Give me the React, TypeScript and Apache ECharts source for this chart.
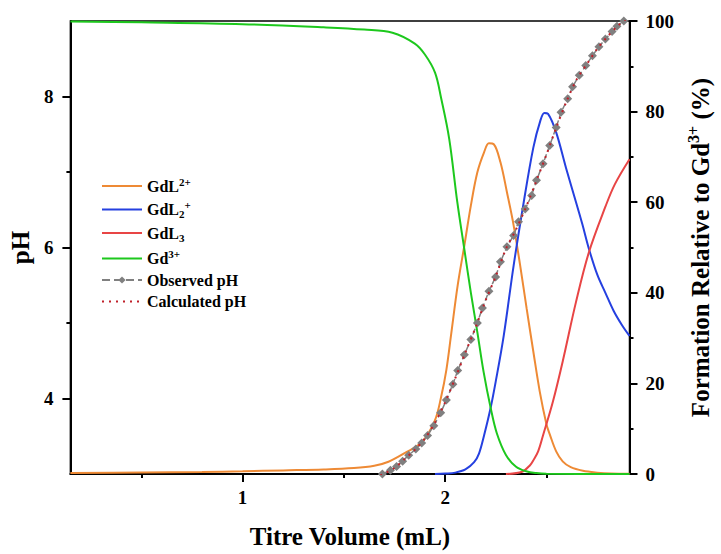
import React, { useEffect, useRef } from "react";
import * as echarts from "echarts";

const FONT = "'Liberation Serif', 'Times New Roman', serif";

// Gd3+ (% formation)
const gd3X = [0.15, 0.5, 1.0, 1.4, 1.6, 1.74, 1.85, 1.9, 1.95, 1.98, 2.02, 2.06, 2.095, 2.127, 2.16, 2.19, 2.225, 2.255, 2.3, 2.35, 2.4, 2.45, 2.5, 2.91];
const gd3Y = [99.9, 99.7, 99.3, 98.6, 98.1, 97.4, 95.0, 92.6, 88.6, 83, 74, 60, 49.5, 40, 31, 22.5, 14.5, 9, 4.2, 1.6, 0.6, 0.2, 0.05, 0];

// GdL2+
const gdlX = [0.15, 0.5, 0.8, 1.0, 1.2, 1.4, 1.55, 1.65, 1.72, 1.8, 1.884, 1.949, 1.98, 2.006, 2.03, 2.062, 2.095, 2.127, 2.159, 2.192, 2.216, 2.24, 2.273, 2.305, 2.338, 2.37, 2.402, 2.435, 2.467, 2.5, 2.516, 2.548, 2.58, 2.62, 2.68, 2.75, 2.82, 2.91];
const gdlY = [0.2, 0.35, 0.45, 0.6, 0.8, 1.0, 1.3, 1.8, 2.7, 4.6, 7.0, 11.8, 17, 23, 31, 41.7, 50.5, 59.3, 66.6, 71.0, 73.0, 72.8, 68.8, 62.2, 54.9, 46.1, 36.6, 27.1, 18.2, 11, 8.8, 5.0, 2.8, 1.5, 0.7, 0.3, 0.1, 0.05];

// GdL2+ (bis)
const gdl2X = [1.95, 2.0, 2.05, 2.1, 2.143, 2.167, 2.192, 2.224, 2.25, 2.289, 2.338, 2.386, 2.435, 2.47, 2.49, 2.508, 2.548, 2.597, 2.646, 2.678, 2.711, 2.751, 2.791, 2.832, 2.874, 2.91];
const gdl2Y = [0, 0.1, 0.3, 1.0, 2.6, 4.5, 8.5, 14.5, 20.5, 30.5, 46, 59.5, 72, 78, 79.7, 79.5, 75.4, 67.5, 60, 55, 49.5, 44, 40, 36, 32.8, 30.5];

// GdL3
const gdl3X = [2.3, 2.38, 2.42, 2.435, 2.459, 2.483, 2.532, 2.581, 2.646, 2.71, 2.791, 2.838, 2.91];
const gdl3Y = [0, 0.5, 2, 3, 5, 8.5, 16, 25, 38, 49, 59, 64, 69.5];

// Observed pH
const obsX = [1.69, 1.73, 1.76, 1.79, 1.82, 1.855, 1.884, 1.913, 1.944, 1.978, 2.006, 2.038, 2.062, 2.095, 2.127, 2.159, 2.184, 2.216, 2.249, 2.273, 2.305, 2.338, 2.362, 2.395, 2.427, 2.451, 2.483, 2.516, 2.548, 2.572, 2.605, 2.629, 2.662, 2.694, 2.727, 2.759, 2.791, 2.824, 2.848, 2.882];
const obsY = [3.0, 3.05, 3.1, 3.17, 3.25, 3.33, 3.41, 3.51, 3.64, 3.81, 3.98, 4.19, 4.37, 4.58, 4.78, 5.0, 5.2, 5.42, 5.61, 5.81, 6.01, 6.16, 6.34, 6.51, 6.69, 6.89, 7.11, 7.35, 7.59, 7.79, 7.97, 8.13, 8.28, 8.41, 8.54, 8.66, 8.76, 8.86, 8.93, 9.0];

// Calculated pH
const calcX = [1.68, 1.75, 1.8, 1.85, 1.9, 1.95, 2.0, 2.05, 2.1, 2.15, 2.2, 2.25, 2.3, 2.35, 2.4, 2.45, 2.5, 2.55, 2.6, 2.65, 2.7, 2.75, 2.8, 2.85, 2.89];
const calcY = [2.98, 3.08, 3.2, 3.32, 3.47, 3.68, 3.95, 4.27, 4.61, 4.94, 5.3, 5.62, 5.98, 6.24, 6.54, 6.88, 7.23, 7.6, 7.94, 8.23, 8.43, 8.63, 8.79, 8.93, 9.02];

const xMajor = [1, 2];
const xMinor = [0.5, 1.5, 2.5];
const phMajor = [4, 6, 8];
const phMinor = [5, 7];

const zip = (xs: number[], ys: number[]) => xs.map((x, i) => [x, ys[i]]);

const legendLabels: Record<string, string> = {
  "GdL2+": "{b|GdL}{sup|2+}",
  "GdL2_+": "{b|GdL}{sub|2}{sup|+}",
  GdL3: "{b|GdL}{sub|3}",
  "Gd3+": "{b|Gd}{sup|3+}",
  "Observed pH": "{b|Observed pH}",
  "Calculated pH": "{b|Calculated pH}",
};

const tickStyle = { color: "#000", width: 2 };
const labelStyle = { fontSize: 19, fontWeight: "bold" as const, fontFamily: FONT, color: "#000" };
const nameStyle = { fontSize: 25, fontWeight: "bold" as const, fontFamily: FONT, color: "#000" };
const hidden = { opacity: 0 };

export default function App() {
  const ref = useRef<HTMLDivElement>(null);
  useEffect(() => {
    const chart = echarts.init(ref.current!, null, { renderer: "svg" });
    const speciesLine = (name: string, color: string, xs: number[], ys: number[]) => ({
      name,
      type: "line",
      xAxisIndex: 0,
      yAxisIndex: 2,
      data: zip(xs, ys),
      symbol: "none",
      smooth: 0.35,
      lineStyle: { color, width: 2 },
      itemStyle: { color },
      z: 3,
    });
    chart.setOption({
      animation: false,
      backgroundColor: "#fff",
      grid: { left: 70, right: 85, top: 21, bottom: 77, show: true, borderColor: "#000", borderWidth: 1.5 },
      legend: {
        orient: "vertical",
        left: 101,
        top: 176,
        padding: 0,
        itemWidth: 40,
        itemHeight: 9,
        itemGap: 5.5,
        data: [
          { name: "GdL2+", itemStyle: hidden },
          { name: "GdL2_+", itemStyle: hidden },
          { name: "GdL3", itemStyle: hidden },
          { name: "Gd3+", itemStyle: hidden },
          { name: "Observed pH" },
          { name: "Calculated pH", itemStyle: hidden },
        ],
        formatter: (n: string) => legendLabels[n] || n,
        textStyle: {
          rich: {
            b: { fontSize: 16, fontWeight: "bold", fontFamily: FONT, color: "#000", lineHeight: 20 },
            sup: { fontSize: 11, fontWeight: "bold", fontFamily: FONT, color: "#000", lineHeight: 11, verticalAlign: "top" },
            sub: { fontSize: 11, fontWeight: "bold", fontFamily: FONT, color: "#000", lineHeight: 11, verticalAlign: "bottom" },
          },
        },
      },
      xAxis: [
        {
          type: "value",
          min: 0.15,
          max: 2.91,
          position: "bottom",
          axisLine: { show: true, onZero: false, lineStyle: tickStyle },
          axisTick: { show: true, customValues: xMajor, length: 8, lineStyle: tickStyle },
          axisLabel: { customValues: xMajor, margin: 14, ...labelStyle },
          splitLine: { show: false },
          name: "Titre Volume (mL)",
          nameLocation: "middle",
          nameGap: 50,
          nameTextStyle: nameStyle,
        },
        {
          type: "value",
          min: 0.15,
          max: 2.91,
          position: "bottom",
          axisLine: { show: false },
          axisTick: { show: true, customValues: xMinor, length: 4, lineStyle: tickStyle },
          axisLabel: { show: false },
          splitLine: { show: false },
        },
      ],
      yAxis: [
        {
          type: "value",
          min: 3,
          max: 9,
          position: "left",
          axisLine: { show: true, lineStyle: tickStyle },
          axisTick: { show: true, customValues: phMajor, length: 8, lineStyle: tickStyle },
          axisLabel: { customValues: phMajor, margin: 17, ...labelStyle },
          splitLine: { show: false },
          name: "pH",
          nameLocation: "middle",
          nameRotate: 90,
          nameGap: 37,
          nameTextStyle: nameStyle,
        },
        {
          type: "value",
          min: 3,
          max: 9,
          position: "left",
          axisLine: { show: false },
          axisTick: { show: true, customValues: phMinor, length: 4, lineStyle: tickStyle },
          axisLabel: { show: false },
          splitLine: { show: false },
        },
        {
          type: "value",
          min: 0,
          max: 100,
          interval: 20,
          position: "right",
          axisLine: { show: true, lineStyle: tickStyle },
          axisTick: { show: true, length: 8, lineStyle: tickStyle },
          minorTick: { show: true, splitNumber: 2, length: 4, lineStyle: tickStyle },
          axisLabel: { margin: 16, ...labelStyle },
          splitLine: { show: false },
          name: "{a|Formation Relative to Gd}{s|3+}{a| (%)}",
          nameLocation: "middle",
          nameRotate: 90,
          nameGap: 56,
          nameTextStyle: {
            rich: {
              a: { ...nameStyle, lineHeight: 30 },
              s: { fontSize: 16, fontWeight: "bold", fontFamily: FONT, color: "#000", lineHeight: 16, verticalAlign: "top" },
            },
          },
        },
      ],
      series: [
        speciesLine("GdL2+", "#EE8A35", gdlX, gdlY),
        speciesLine("GdL2_+", "#2540E0", gdl2X, gdl2Y),
        speciesLine("GdL3", "#E84545", gdl3X, gdl3Y),
        speciesLine("Gd3+", "#1DC81D", gd3X, gd3Y),
        {
          name: "Observed pH",
          type: "line",
          xAxisIndex: 0,
          yAxisIndex: 0,
          data: zip(obsX, obsY),
          symbol: "diamond",
          symbolSize: 9,
          showSymbol: true,
          lineStyle: { color: "#808080", width: 1.5, type: "dashed" },
          itemStyle: { color: "#808080" },
          z: 4,
        },
        {
          name: "Calculated pH",
          type: "line",
          xAxisIndex: 0,
          yAxisIndex: 0,
          data: zip(calcX, calcY),
          symbol: "none",
          smooth: 0.3,
          lineStyle: { color: "#C0202A", width: 2, type: [2, 5] },
          itemStyle: { color: "#C0202A" },
          z: 5,
        },
      ],
    });
    return () => chart.dispose();
  }, []);
  return (
    <div
      ref={ref}
      style={{ position: "fixed", left: 0, top: 0, width: 721, height: 554, background: "#fff" }}
    />
  );
}
